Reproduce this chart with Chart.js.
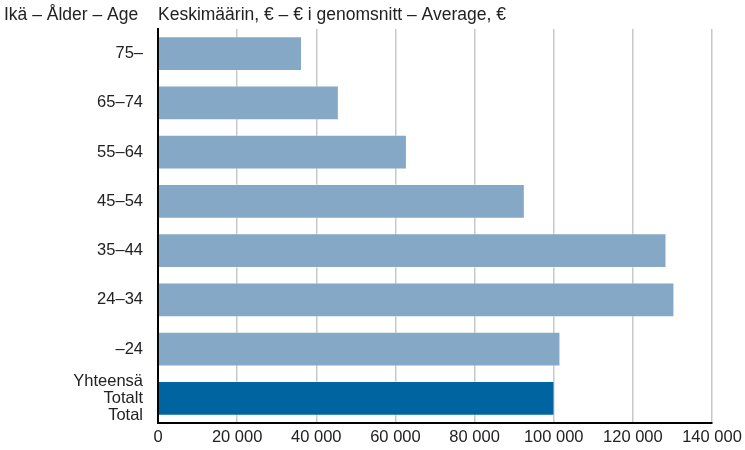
<!DOCTYPE html>
<html>
<head>
<meta charset="utf-8">
<script src="https://cdn.jsdelivr.net/npm/chart.js@4/dist/chart.umd.min.js"></script>
<style>
  html, body { margin: 0; padding: 0; background: #fff; }
  #wrap { width: 745px; height: 450px; }
</style>
</head>
<body>
<div id="wrap"><canvas id="ageChart"></canvas></div>
<script>
// age groups, top to bottom
var ageGroups = ['75–', '65–74', '55–64', '45–54', '35–44', '24–34', '–24', ['Yhteensä', 'Totalt', 'Total']];
var averages = [36400, 45700, 62900, 92700, 128500, 130500, 101700, 100200];
var xTicks = [0, 20000, 40000, 60000, 80000, 100000, 120000, 140000];

var yTitle = 'Ikä – Ålder – Age';
var xTitle = 'Keskimäärin, € – € i genomsnitt – Average, €';

var fontFam = '"Liberation Sans", Arial, sans-serif';

var headerText = {
    id: 'headerText',
    afterDraw: function (chart) {
        var c = chart.ctx;
        c.save();
        c.font = '17.5px ' + fontFam;
        c.fillStyle = '#222';
        c.textBaseline = 'middle';
        c.textAlign = 'left';
        c.fillText(yTitle, 4, 15);
        c.fillText(xTitle, chart.chartArea.left, 15);
        c.restore();
    }
};

var barColors = averages.map(function (v, i) {
    return i === averages.length - 1 ? '#0064a1' : '#84a8c5';
});

var ctx = document.getElementById('ageChart').getContext('2d');
var myChart = new Chart(ctx, {
    type: 'bar',
    data: {
        labels: ageGroups,
        datasets: [{
            data: averages,
            backgroundColor: barColors,
            borderColor: 'rgba(255,255,255,0.35)',
            borderWidth: 1,
            barPercentage: 0.71,
            categoryPercentage: 1
        }]
    },
    options: {
        indexAxis: 'y',
        responsive: true,
        maintainAspectRatio: false,
        animation: false,
        layout: { padding: { top: 29, right: 33, left: 0, bottom: 0 } },
        plugins: {
            legend: { display: false },
            tooltip: { enabled: false }
        },
        scales: {
            x: {
                min: 0,
                max: 140000,
                afterBuildTicks: function (scale) {
                    scale.ticks = xTicks.map(function (v) { return { value: v }; });
                },
                afterFit: function (scale) {
                    scale.height = 27;
                    scale.paddingLeft = 0;
                    scale.paddingRight = 0;
                },
                grid: { color: '#c8c8c8', lineWidth: 1.5, drawTicks: false },
                border: { color: '#000', width: 2 },
                ticks: {
                    padding: 5,
                    color: '#222',
                    font: { family: fontFam, size: 16.5 },
                    callback: function (v) {
                        return String(v).replace(/\B(?=(\d{3})+(?!\d))/g, ' ');
                    }
                }
            },
            y: {
                grid: { display: false, drawTicks: false },
                border: { color: '#000', width: 2 },
                afterFit: function (scale) {
                    scale.width = 158;
                    scale.paddingTop = 0;
                    scale.paddingBottom = 0;
                },
                ticks: {
                    autoSkip: false,
                    padding: 15,
                    color: '#222',
                    font: { family: fontFam, size: 16.5, lineHeight: 1.03 }
                }
            }
        }
    },
    plugins: [headerText]
});
</script>
</body>
</html>
